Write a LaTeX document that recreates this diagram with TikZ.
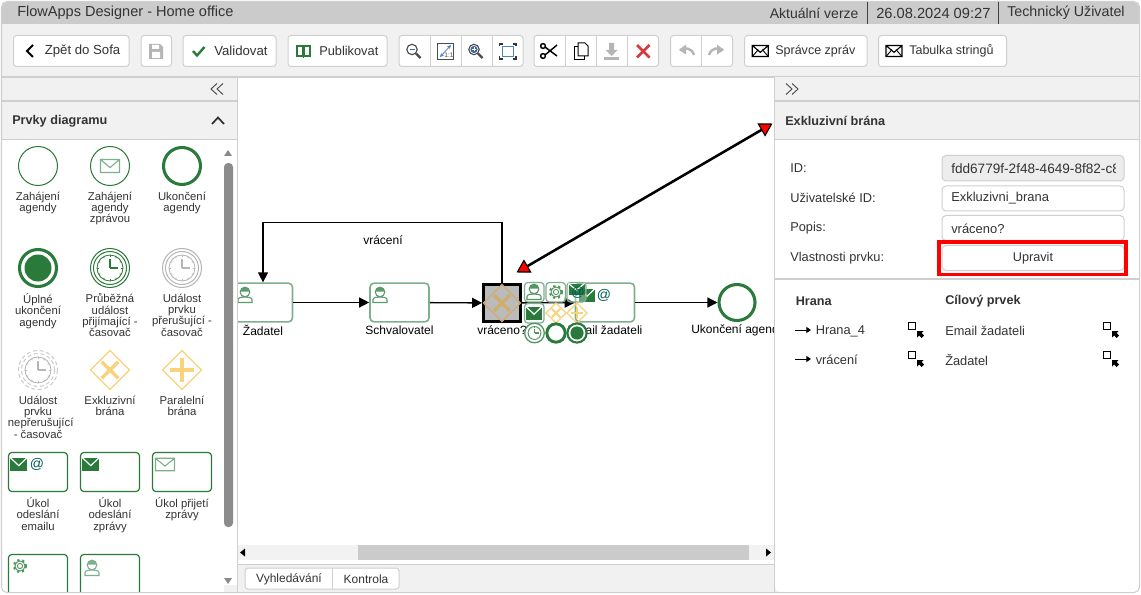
\documentclass[tikz,border=0pt]{standalone}
\usepackage{fontspec}
\setmainfont{Liberation Sans}
\usetikzlibrary{arrows.meta}
\definecolor{gr}{HTML}{2A7A3B}
\definecolor{pgr}{HTML}{7FB08E}
\definecolor{gold}{HTML}{F9D27A}
\definecolor{dgold}{HTML}{CFAE6C}
\definecolor{txt}{HTML}{333333}
\definecolor{bar}{HTML}{CBCBCB}
\definecolor{panel}{HTML}{F1F1F1}
\definecolor{edge}{HTML}{CFCFCF}
\definecolor{lgray}{HTML}{B5B5B5}
\definecolor{iblue}{HTML}{4A86C5}
\definecolor{xred}{HTML}{D63A3A}
\tikzset{
 every node/.style={text=txt,inner sep=0pt,font=\fontsize{9.6}{11}\selectfont},
 title/.style={anchor=west,font=\fontsize{10.6}{12}\selectfont},
 palbl/.style={align=center,anchor=north,font=\fontsize{8.5}{8.5}\selectfont},
 bold/.style={anchor=west,font=\fontsize{9.5}{11}\selectfont\bfseries},
 btn/.style={draw=edge,fill=white,rounded corners=2.2pt,line width=.75pt},
 sep/.style={draw=edge,line width=.75pt},
 hline/.style={draw=edge,line width=.9pt},
 dtask/.style={draw=pgr,fill=white,line width=1.2pt,rounded corners=3pt,minimum width=44.25pt,minimum height=29pt},
 ptask/.style={draw=gr,fill=white,line width=.9pt,rounded corners=2.5pt},
 cbtn/.style={draw=pgr,fill=white,fill opacity=.3,line width=.9pt,rounded corners=2.5pt},
 flow/.style={draw=black,line width=1pt,-{Triangle[length=7.5pt,width=7.5pt]}},
 field/.style={draw=edge,fill=white,rounded corners=3pt,line width=.75pt},
 dlbl/.style={anchor=center,text=black,font=\fontsize{9}{11}\selectfont},
 btxt/.style={anchor=west,font=\fontsize{9.4}{11}\selectfont},
 ftxt/.style={anchor=west,font=\fontsize{9.7}{11}\selectfont},
}
\newcommand\icEnvO[5]{\draw[#5,line width=.85pt] (#1-#3,#2-#4) rectangle (#1+#3,#2+#4) (#1-#3,#2-#4) -- (#1,#2+.25*#4) -- (#1+#3,#2-#4);}
\newcommand\icEnvX[5]{\icEnvO{#1}{#2}{#3}{#4}{#5}\draw[#5,line width=.7pt] (#1-#3,#2+#4) -- (#1-.25*#3,#2-.25*#4) (#1+#3,#2+#4) -- (#1+.25*#3,#2-.25*#4);}
\newcommand\icEnvF[5]{\fill[#5] (#1-#3,#2-#4) rectangle (#1+#3,#2+#4);\draw[white,line width=.9pt] (#1-#3,#2-#4) -- (#1,#2+.2*#4) -- (#1+#3,#2-#4);}
\newcommand\icPerson[3]{\draw[#3,line width=.8pt] (#1,#2-3) circle (4.8) (#1-7,#2+7.5) -- (#1-7,#2+4.5) .. controls (#1-7,#2+2.5) and (#1-3,#2+2) .. (#1,#2+2) .. controls (#1+3,#2+2) and (#1+7,#2+2.5) .. (#1+7,#2+4.5) -- (#1+7,#2+7.5) -- cycle;\fill[#3] (#1-4.8,#2-3.5) .. controls (#1-3.5,#2-9.5) and (#1+3.5,#2-9.5) .. (#1+4.8,#2-3.5) -- cycle;}
\newcommand\icGear[3]{\draw[#3,line width=.7pt] (#1,#2) circle (2.6) (#1,#2) circle (5);\draw[#3,line width=1.5pt,dash pattern=on 1.7pt off 2.1pt] (#1,#2) circle (6);}
\newcommand\icClock[4]{\draw[#3,line width=.65pt] (#1,#2) circle (#4*13);\draw[#3,line width=.9pt] (#1,#2) -- (#1,#2-#4*9) (#1,#2) -- (#1+#4*8,#2);\foreach \a in {0,30,...,330}{\draw[#3,line width=.5pt] (#1,#2) ++(\a:#4*11.2) -- ++(\a:#4*1.6);}}
\newcommand\icX[4]{\draw[#3,line width=.9pt] (#1-#4,#2) -- (#1,#2-#4) -- (#1+#4,#2) -- (#1,#2+#4) -- cycle;\draw[#3,line width=#4*.135pt] (#1-#4*.42,#2-#4*.42) -- (#1+#4*.42,#2+#4*.42) (#1-#4*.42,#2+#4*.42) -- (#1+#4*.42,#2-#4*.42);}
\newcommand\icP[4]{\draw[#3,line width=.9pt] (#1-#4,#2) -- (#1,#2-#4) -- (#1+#4,#2) -- (#1,#2+#4) -- cycle;\draw[#3,line width=#4*.125pt] (#1-#4*.6,#2) -- (#1+#4*.6,#2) (#1,#2-#4*.6) -- (#1,#2+#4*.6);}
\newcommand\icExpand[2]{\draw[black,line width=.7pt] (#1,#2) rectangle (#1+6.5,#2+6.5);\fill[black] (#1+8.5,#2+8.5) -- (#1+15,#2+8.5) -- (#1+13,#2+10.5) -- (#1+15.5,#2+13) -- (#1+13,#2+15.5) -- (#1+10.5,#2+13) -- (#1+8.5,#2+15) -- cycle;}
\newcommand\icMag[3]{\draw[#3,line width=.85pt] (#1-1.5,#2-1.5) circle (5.2);\draw[#3,line width=1.7pt] (#1+2.5,#2+2.5) -- (#1+7,#2+7);}
\newcommand\icLarrow[2]{\draw[black,line width=.75pt,-{Triangle[length=3.5pt,width=4.5pt]}] (#1,#2) -- (#1+16,#2);}
\newcommand\icDouble[3]{\draw[#3,line width=.7pt,line join=miter] (#1+6,#2-5.5) -- (#1,#2) -- (#1+6,#2+5.5) (#1+12,#2-5.5) -- (#1+6,#2) -- (#1+12,#2+5.5);}
\newcommand\icDoubleR[3]{\draw[#3,line width=.7pt,line join=miter] (#1,#2-5.5) -- (#1+6,#2) -- (#1,#2+5.5) (#1+6,#2-5.5) -- (#1+12,#2) -- (#1+6,#2+5.5);}
\begin{document}
\begin{tikzpicture}[x=.75pt,y=-.75pt]
\useasboundingbox (0,0) rectangle (1141,595);
\fill[white] (0,0) rectangle (1141,595);
\fill[panel,rounded corners=4pt] (2,2) rectangle (1139,592);
\fill[bar,rounded corners=4pt] (2,2) rectangle (1139,24);
\fill[bar] (2,12) rectangle (1139,24);
\node[title,font=\fontsize{10.9}{12}\selectfont] (ttl) at (17,13) {FlowApps Designer - Home office};
\node[title,font=\fontsize{10.5}{12}\selectfont] (ver) at (769.5,13) {Aktuální verze};
\node[title,font=\fontsize{11}{12}\selectfont] (dat) at (876,13) {26.08.2024 09:27};
\node[title,font=\fontsize{10.7}{12}\selectfont] (usr) at (1007,13) {Technický Uživatel};
\draw[black!75,line width=.75pt] (867.5,2) -- (867.5,24) (998.5,2) -- (998.5,24);
% toolbar
\path[btn] (13.5,35.5) rectangle (129,66.5);
\draw[black,line width=1.4pt] (33,45) -- (27,51) -- (33,57);
\node[btxt,font=\fontsize{9.9}{11}\selectfont] (bz) at (44.5,51) {Zpět do Sofa};
\path[btn] (141,35.5) rectangle (171.5,66.5);
\fill[lgray] (149,44) -- (160,44) -- (163,47) -- (163,59) -- (149,59) -- cycle;
\fill[white] (152,45) rectangle (159,49) (152,52) rectangle (160,58);
\path[btn] (183,35.5) rectangle (276,66.5);
\draw[gr,line width=1.8pt] (193,51) -- (197,55.5) -- (204.5,47);
\node[btxt,font=\fontsize{9.9}{11}\selectfont] (bv) at (214,51) {Validovat};
\path[btn] (288,35.5) rectangle (387,66.5);
\draw[gr,line width=1.5pt] (297,46.5) rectangle (302.5,56) (304,46.5) rectangle (309.5,56);
\draw[gr,line width=.9pt] (303.3,46) -- (303.3,58);
\node[btxt,font=\fontsize{9.6}{11}\selectfont] (bp) at (319,51) {Publikovat};
\path[btn] (399,35.5) rectangle (523,66.5);
\draw[sep] (430,35.5) -- (430,66.5) (461,35.5) -- (461,66.5) (492,35.5) -- (492,66.5);
\icMag{413.5}{51}{black!70}
\draw[iblue!80!black,line width=1pt] (409.5,49.5) -- (414.5,49.5);
\draw[black!70,line width=.7pt] (437.5,43) rectangle (453,59);
\draw[iblue,line width=.6pt,{Stealth[length=3pt,width=3pt]}-{Stealth[length=3pt,width=3pt]}] (440,57) -- (451,45);
\node[font=\fontsize{5}{6}\selectfont,text=black!70] (one) at (449,55.5) {1:1};
\icMag{475.5}{51}{black!70}
\fill[iblue!80!black] (474,49.5) circle (3.6);
\draw[white,line width=.7pt] (472,49.5) -- (476,49.5) (474,47.5) -- (474,51.5);
\draw[iblue,line width=.75pt] (502.5,47) rectangle (513.5,57);
\draw[black!80,line width=.8pt] (499.5,46) -- (499.5,44) -- (502.5,44) (513,44) -- (516,44) -- (516,46) (499.5,56) -- (499.5,59) -- (502.5,59) (513,59) -- (516,59) -- (516,56);
\path[btn] (534,35.5) rectangle (658.5,66.5);
\draw[sep] (565,35.5) -- (565,66.5) (596,35.5) -- (596,66.5) (627.5,35.5) -- (627.5,66.5);
\draw[black,line width=1.1pt] (543,46) circle (2.4) (543,56) circle (2.4);
\draw[black,line width=1.1pt] (545,47) -- (557,56) (545,55) -- (557,45);
\draw[black,line width=.75pt,fill=white] (574,47) rectangle (584,60);
\draw[black,line width=.75pt,fill=white] (578,43) -- (585,43) -- (588,46) -- (588,56) -- (578,56) -- cycle;
\fill[lgray] (609,43) rectangle (614,50) (605.5,50) -- (617.5,50) -- (611.5,56) -- cycle;
\fill[lgray] (604,57) rectangle (619,60);
\draw[xred,line width=1.9pt] (637,45) -- (649.5,57.5) (649.5,45) -- (637,57.5);
\path[btn] (670.5,35.5) rectangle (732.5,66.5);
\draw[sep] (701.5,35.5) -- (701.5,66.5);
\draw[lgray,line width=1.8pt] (680,50) .. controls (685,47) and (692,48) .. (694,55);
\fill[lgray] (679,50) -- (686,44.5) -- (686,54.5) -- cycle;
\draw[lgray,line width=1.8pt] (723,50) .. controls (718,47) and (711,48) .. (709,55);
\fill[lgray] (724,50) -- (717,44.5) -- (717,54.5) -- cycle;
\path[btn] (744.5,35.5) rectangle (867,66.5);
\icEnvX{760.3}{51}{8}{5.5}{black}
\node[btxt] (bs) at (775,51) {Správce zpráv};
\path[btn] (878.5,35.5) rectangle (1006.5,66.5);
\icEnvX{894}{51}{8}{5.5}{black}
\node[btxt] (bt) at (909,51) {Tabulka stringů};
% canvas
\fill[white] (238,77.5) rectangle (774,564);
\node[dtask] (zad) at (263,302.5) {};
\icPerson{245}{295}{pgr!60!gr}
\node[dtask] (sch) at (399.5,302.5) {};
\icPerson{380}{295}{pgr!60!gr}
\node[dtask] (ema) at (605,302.5) {};
\icEnvF{587}{295}{8}{6.5}{gr}
\node[text=teal!70!black,font=\fontsize{10.5}{11}\selectfont] (at1) at (604,295) {@};
\node[draw=gr,fill=white,circle,line width=2.3pt,minimum size=27pt] (end) at (737,302.5) {};
\node[dlbl] (lz) at (263,330) {Žadatel};
\node[dlbl] (ls) at (399.5,330) {Schvalovatel};
\node[dlbl] (lg) at (502,330) {vráceno?};
\node[dlbl] (le) at (605,330) {Email žadateli};
\node[dlbl] (lk) at (738,330) {Ukončení agendy};
\node[dlbl] (lv) at (383,240) {vrácení};
\node[draw=black,fill=bar!92!black,line width=2.1pt,minimum width=27.75pt,minimum height=27.75pt] (gw) at (502,303) {};
\icX{502}{303}{dgold}{18.5}
\coordinate (ret) at (400,222.5);
\draw[flow] (zad) -- (sch);
\draw[flow] (sch) -- (gw);
\draw[flow] (gw) -- (ema);
\draw[flow] (ema) -- (end);
\draw[flow] (gw.north) |- (ret) -| (zad.north);
% context pad
\path[cbtn] (524.5,282.5) rectangle (544,302);
\icPerson{534}{292}{pgr!50!gr}
\path[cbtn] (546,282.5) rectangle (565.5,302);
\icGear{556}{292}{pgr!50!gr}
\path[cbtn] (567,282.5) rectangle (586,302);
\icEnvF{576.5}{289}{8}{5.5}{gr}
\node[text=teal!70!black,font=\fontsize{10}{11}\selectfont] (at2) at (578,293) {@};
\path[cbtn] (524.5,303.5) rectangle (544,323);
\icEnvF{534}{313}{8}{6.5}{gr}
\icX{556}{313}{gold}{10}
\icP{577}{313}{gold}{10}
\draw[pgr!50!gr,fill=white,line width=1pt] (534.5,333) circle (9.8);
\icClock{534.5}{333}{pgr!50!gr}{.5}
\draw[gr,fill=white,line width=2.2pt] (556,333) circle (9.2);
\draw[gr,fill=white,line width=1.6pt] (577,333) circle (9.6);
\fill[gr] (577,333) circle (6.6);
% scrollbar
\fill[black!5] (238,545) rectangle (774,560);
\fill[bar] (358,545) rectangle (749,560);
\fill[black] (240,552.5) -- (245,548.5) -- (245,556.5) -- cycle;
\fill[black] (771,552.5) -- (766,548.5) -- (766,556.5) -- cycle;
\fill[panel] (238,564) rectangle (774,592);
\draw[hline] (238,564.5) -- (774,564.5);
\path[btn] (245,568) rectangle (399,589);
\draw[sep] (332.5,568) -- (332.5,589);
\node[font=\fontsize{9}{11}\selectfont] (tv) at (289,579) {Vyhledávání};
\node[font=\fontsize{9}{11}\selectfont] (tk) at (366,579) {Kontrola};
% left panel
\fill[panel] (2,77) rectangle (237,140);
\fill[white,rounded corners=4pt] (2,130) rectangle (237,592);
\fill[panel] (2,125) rectangle (237,140);
\fill[panel] (224,585) rectangle (237,592);
\draw[hline] (2,77) -- (1139,77);
\draw[hline] (2,101) -- (237,101);
\draw[hline] (2,139.5) -- (237,139.5);
\draw[hline] (237.5,77) -- (237.5,592);
\icDouble{211}{89}{black!70}
\node[bold] (pd) at (12,121) {Prvky diagramu};
\draw[black!80,line width=1.3pt] (212,124) -- (218,117.5) -- (224,124);
% palette row 1
\draw[gr,line width=.75pt] (38,166) circle (19.5);
\draw[gr,line width=.75pt] (110,166) circle (19.5);
\icEnvO{110}{166}{9.5}{6.5}{pgr}
\draw[gr,line width=2.3pt] (182,166) circle (18.5);
\node[palbl] (p1) at (38,191.5) {Zahájení\\agendy};
\node[palbl] (p2) at (110,191.5) {Zahájení\\agendy\\zprávou};
\node[palbl] (p3) at (182,191.5) {Ukončení\\agendy};
% row 2
\draw[gr,line width=2.3pt] (38,268) circle (18.5);
\fill[gr] (38,268) circle (13.5);
\draw[gr,line width=.75pt] (110,268) circle (19.5) (110,268) circle (16.5);
\icClock{110}{268}{gr}{1}
\draw[lgray,line width=.75pt] (182,268) circle (19.5) (182,268) circle (16.5);
\icClock{182}{268}{lgray}{1}
\node[palbl] (p4) at (38,293.5) {Úplné\\ukončení\\agendy};
\node[palbl] (p5) at (110,293.5) {Průběžná\\událost\\přijímající -\\časovač};
\node[palbl] (p6) at (182,293.5) {Událost\\prvku\\přerušující -\\časovač};
% row 3
\draw[lgray!70,line width=.75pt,dash pattern=on 3pt off 2pt] (38,370) circle (19.5) (38,370) circle (16.5);
\icClock{38}{370}{lgray}{1}
\icX{110}{370}{gold}{19.5}
\icP{182}{370}{gold}{19.5}
\node[palbl] (p7) at (38,395.5) {Událost\\prvku\\\hspace*{4pt}nepřerušující\\- časovač};
\node[palbl] (p8) at (110,395.5) {Exkluzivní\\brána};
\node[palbl] (p9) at (182,395.5) {Paralelní\\brána};
% row 4
\path[ptask] (8.5,452.5) rectangle (67.5,491.5);
\icEnvF{18.8}{464.3}{8.5}{6.7}{gr}
\node[text=teal!70!black,font=\fontsize{10.5}{11}\selectfont] (at3) at (37,464) {@};
\path[ptask] (80.5,452.5) rectangle (139.5,491.5);
\icEnvF{90.8}{464.3}{8.5}{6.7}{gr}
\path[ptask] (152.5,452.5) rectangle (211.5,491.5);
\icEnvO{165}{464.5}{9.5}{6.2}{pgr}
\node[palbl] (p10) at (38,497.5) {Úkol\\odeslání\\emailu};
\node[palbl] (p11) at (110,497.5) {Úkol\\odeslání\\zprávy};
\node[palbl] (p12) at (182,497.5) {Úkol přijetí\\zprávy};
% row 5
\begin{scope}
\clip (2,540) rectangle (237,592);
\path[ptask] (8.5,554.5) rectangle (67.5,610);
\icGear{20}{566}{pgr!50!gr}
\path[ptask] (80.5,554.5) rectangle (139.5,610);
\icPerson{92}{568}{pgr}
\end{scope}
% palette scrollbar
\fill[black!45,rounded corners=3pt] (224,163) rectangle (233,527);
\fill[black!45] (224,156) -- (232,156) -- (228,150) -- cycle;
\fill[black!45] (224,578) -- (232,578) -- (228,584) -- cycle;
% right panel
\fill[panel] (775,77.5) rectangle (1139,140);
\fill[white,rounded corners=4pt] (775,130) rectangle (1139,592);
\fill[panel] (775,125) rectangle (1139,140);
\draw[hline] (774.5,77) -- (774.5,592);
\draw[hline] (775,101) -- (1139,101);
\draw[hline] (775,139.5) -- (1139,139.5);
\icDoubleR{786}{89}{black!70}
\node[bold] (pe) at (785,120.5) {Exkluzivní brána};
\node[anchor=west] (f1) at (790,168) {ID:};
\node[anchor=west] (f2) at (790,197.5) {Uživatelské ID:};
\node[anchor=west] (f3) at (790,228) {Popis:};
\node[anchor=west] (f4) at (790,258) {Vlastnosti prvku:};
\path[field,fill=black!7] (942,155.5) rectangle (1124,181);
\path[field] (942,186) rectangle (1124,211);
\path[field] (942,215.5) rectangle (1124,240.5);
\begin{scope}
\clip (942,155) rectangle (1115,181);
\node[ftxt,font=\fontsize{10.2}{11}\selectfont] (v1) at (951,168.5) {fdd6779f-2f48-4649-8f82-c8a1};
\end{scope}
\node[ftxt] (v2) at (951,198.5) {Exkluzivni\_brana};
\node[ftxt] (v3) at (951,229) {vráceno?};
\path[field] (942,245.5) rectangle (1124,270.5);
\node[font=\fontsize{9.5}{11}\selectfont] (up) at (1033,258.5) {Upravit};
\draw[red,line width=2.3pt] (939,242) rectangle (1126,274.5);
\draw[hline] (775,279) -- (1139,279);
\node[bold] (hh) at (795.5,301.5) {Hrana};
\node[bold] (hc) at (945,301.5) {Cílový prvek};
\icLarrow{795}{330}
\icLarrow{795}{359}
\node[anchor=west] (h1) at (815.5,331) {Hrana\_4};
\node[anchor=west] (h2) at (815.5,360) {vrácení};
\node[anchor=west] (c1) at (945,331) {Email žadateli};
\node[anchor=west] (c2) at (945,360) {Žadatel};
\icExpand{908.5}{322.5}
\icExpand{908.5}{351.5}
\icExpand{1103.5}{322.5}
\icExpand{1103.5}{351.5}
% double arrow
\coordinate (ha) at (772.5,123.5);
\coordinate (hb) at (516.5,272.5);
\draw[black,line width=1.9pt,{Triangle[length=9.75pt,width=11.25pt,fill=red,line width=.8pt]}-{Triangle[length=9.75pt,width=11.25pt,fill=red,line width=.8pt]}] (hb) -- (ha);
\draw[edge,line width=.75pt,rounded corners=4pt] (1.5,1.5) rectangle (1139.5,592.5);
\end{tikzpicture}
\end{document}
